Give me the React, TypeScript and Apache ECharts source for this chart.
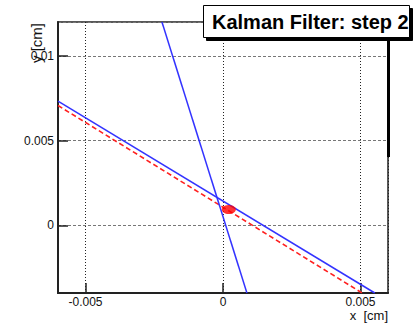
import React, { useEffect, useRef } from 'react';
import * as echarts from 'echarts';

const xRange = [-0.006, 0.006];
const yRange = [-0.004, 0.012];
// straight-line constraints from the two measurements (blue)
const measurementA = [[-0.006, 0.00733], [0.00552, -0.004]];
const measurementB = [[-0.00222, 0.012], [0.00087, -0.004]];
// filtered track (red dashed)
const filteredTrack = [[-0.006, 0.00707], [0.00506, -0.004]];
// current state estimate (red blob)
const estimate = [[0.00021, 0.00093]];

const titleText = 'Kalman Filter: step 2';
const xName = 'x  [cm]';
const yName = 'y [cm]';

const fmt = (v: number) => String(+v.toFixed(4));
const FONT = '"Liberation Sans", Arial, Helvetica, sans-serif';

export default function App() {
  const ref = useRef<HTMLDivElement>(null);
  useEffect(() => {
    if (!ref.current) return;
    const chart = echarts.init(ref.current, undefined, { renderer: 'svg' });
    const axisCommon = {
      type: 'value' as const,
      axisLine: { show: true, onZero: false, lineStyle: { color: '#222', width: 2 } },
      axisTick: { show: true, inside: true, length: 10, lineStyle: { color: '#222', width: 1.5 } },
      axisLabel: {
        showMinLabel: false,
        showMaxLabel: false,
        formatter: fmt,
        color: '#111',
        fontSize: 12,
        fontFamily: FONT,
      },
    };
    chart.setOption({
      animation: false,
      backgroundColor: '#fff',
      grid: {
        left: 58, top: 22, right: 31, bottom: 30,
        show: true, borderColor: '#222', borderWidth: 1.5, backgroundColor: '#fff',
      },
      xAxis: {
        ...axisCommon,
        min: xRange[0], max: xRange[1], splitNumber: 2,
        axisLabel: { ...axisCommon.axisLabel, margin: 3 },
        splitLine: { show: true, lineStyle: { color: '#222', type: [1, 2], width: 1 } },
      },
      yAxis: {
        ...axisCommon,
        min: yRange[0], max: yRange[1], splitNumber: 3,
        axisLabel: { ...axisCommon.axisLabel, margin: 4 },
        splitLine: { show: true, lineStyle: { color: '#777', type: [3, 2], width: 1 } },
      },
      series: [
        {
          type: 'line', data: filteredTrack, symbol: 'none', clip: true,
          lineStyle: { color: '#ff2020', width: 1.6, type: [5, 3] }, z: 2,
        },
        {
          type: 'line', data: measurementA, symbol: 'none', clip: true,
          lineStyle: { color: '#3333ff', width: 1.5 }, z: 3,
        },
        {
          type: 'line', data: measurementB, symbol: 'none', clip: true,
          lineStyle: { color: '#3333ff', width: 1.5 }, z: 3,
        },
        {
          type: 'scatter', data: estimate, symbol: 'circle', symbolSize: [14, 9],
          itemStyle: { color: '#ff0000' }, z: 4,
        },
      ],
      graphic: [
        {
          type: 'text', x: 36, y: 23, rotation: Math.PI / 2,
          style: { text: yName, font: `15px ${FONT}`, fill: '#111', textAlign: 'right', textVerticalAlign: 'middle' },
        },
        {
          type: 'text', x: 388, y: 315.5,
          style: { text: xName, font: `13px ${FONT}`, fill: '#111', textAlign: 'right', textVerticalAlign: 'middle' },
        },
        {
          type: 'line', shape: { x1: 388.5, y1: 36, x2: 388.5, y2: 157 },
          style: { stroke: '#000', lineWidth: 3 }, z: 50,
        },
        {
          type: 'rect', shape: { x: 203.5, y: 5.5, width: 206, height: 32 },
          style: { fill: '#fff', stroke: '#000', lineWidth: 1, shadowColor: '#000', shadowOffsetX: 3, shadowOffsetY: 3, shadowBlur: 0 },
          z: 60,
        },
        {
          type: 'text', x: 212, y: 22,
          style: { text: titleText, font: `bold 20px ${FONT}`, fill: '#000', textAlign: 'left', textVerticalAlign: 'middle' },
          z: 61,
        },
      ],
    });
    return () => chart.dispose();
  }, []);
  return <div ref={ref} style={{ position: 'fixed', left: 0, top: 0, width: 419, height: 323 }} />;
}
